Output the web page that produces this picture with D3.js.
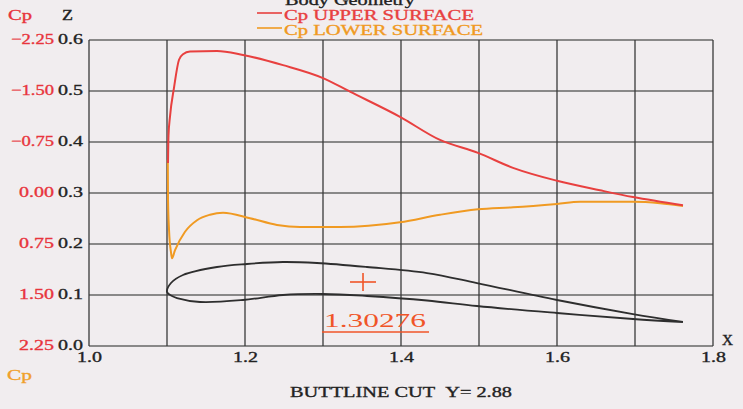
<!DOCTYPE html>
<html>
<head>
<meta charset="utf-8">
<script src="https://cdn.jsdelivr.net/npm/d3@7"></script>
<style>
  html, body { margin: 0; padding: 0; background: #f1edef; }
  svg { display: block; }
  text { font-family: "Liberation Serif", "Times New Roman", serif; }
</style>
</head>
<body>
<svg id="chart" width="743" height="409"></svg>
<script>
// Pressure distribution along a buttline cut: Cp on both surfaces plus section geometry.
const xTicks = [1.0, 1.1, 1.2, 1.3, 1.4, 1.5, 1.6, 1.7, 1.8];
const xTickLabels = ["1.0", "1.2", "1.4", "1.6", "1.8"];
const zTicks = [0.0, 0.1, 0.2, 0.3, 0.4, 0.5, 0.6];
const zTickLabels = ["0.0", "0.1", "0.2", "0.3", "0.4", "0.5", "0.6"];
const cpTicks = [2.25, 1.50, 0.75, 0.00, -0.75, -1.50, -2.25];
const cpTickLabels = ["2.25", "1.50", "0.75", "0.00", "\u22120.75", "\u22121.50", "\u22122.25"];

// Upper surface Cp (x, Cp)
const upperX  = [1.1013, 1.1019, 1.1038, 1.1090, 1.1154, 1.1205, 1.1295, 1.1641, 1.1974, 1.2487, 1.3000, 1.3346, 1.3987, 1.4500, 1.4987, 1.5436, 1.6000, 1.6551, 1.6974, 1.7615];
const upperCp = [-0.44, -0.84, -1.12, -1.55, -1.96, -2.04, -2.08, -2.09, -2.03, -1.88, -1.69, -1.49, -1.12, -0.78, -0.59, -0.37, -0.18, -0.04, 0.06, 0.18];

// Lower surface Cp (x, Cp)
const lowerX  = [1.1010, 1.1013, 1.1026, 1.1051, 1.1064, 1.1103, 1.1231, 1.1385, 1.1551, 1.1718, 1.2064, 1.2410, 1.2705, 1.3218, 1.3987, 1.4500, 1.4987, 1.5436, 1.6000, 1.6295, 1.6974, 1.7321, 1.7615];
const lowerCp = [-0.49, 0.10, 0.54, 0.87, 0.96, 0.84, 0.57, 0.40, 0.32, 0.29, 0.37, 0.47, 0.50, 0.50, 0.43, 0.32, 0.24, 0.21, 0.16, 0.13, 0.13, 0.15, 0.19];

// Section geometry (x, z)
const geomUpperX = [1.1000, 1.1051, 1.1205, 1.1641, 1.2026, 1.2487, 1.2923, 1.3564, 1.4333, 1.4974, 1.6000, 1.6974, 1.7615];
const geomUpperZ = [0.1059, 0.1235, 0.1392, 0.1549, 0.1608, 0.1647, 0.1627, 0.1549, 0.1431, 0.1235, 0.0902, 0.0627, 0.0471];
const geomLowerX = [1.1000, 1.1064, 1.1128, 1.1423, 1.1974, 1.2487, 1.3000, 1.3564, 1.4333, 1.4974, 1.6000, 1.6974, 1.7615];
const geomLowerZ = [0.1059, 0.0980, 0.0941, 0.0863, 0.0902, 0.1000, 0.1020, 0.0980, 0.0892, 0.0784, 0.0647, 0.0529, 0.0471];

// Cursor marker
const markerX = 1.3513;
const markerZ = 0.1255;
const markerLabel = "1.30276";

const svg = d3.select("#chart");
const plotLeft = 89, plotRight = 713, plotTop = 40, plotBottom = 346;

const x = d3.scaleLinear().domain([1.0, 1.8]).range([plotLeft, plotRight]);
const z = d3.scaleLinear().domain([0.0, 0.6]).range([plotBottom, plotTop]);
const cp = d3.scaleLinear().domain([2.25, -2.25]).range([plotBottom, plotTop]);

// Grid
const grid = svg.append("g");
grid.selectAll("line.h").data(zTicks).join("line")
  .attr("x1", plotLeft).attr("x2", plotRight)
  .attr("y1", d => z(d)).attr("y2", d => z(d))
  .attr("stroke", "#666").attr("stroke-width", 1.5);
grid.selectAll("line.v").data(xTicks).join("line")
  .attr("x1", d => x(d)).attr("x2", d => x(d))
  .attr("y1", plotTop).attr("y2", plotBottom)
  .attr("stroke", "#3a3a3a").attr("stroke-width", 1.3);

// Slightly heavier text, as on a plotter printout
function ink(sel, color) {
  sel.attr("stroke", color).attr("stroke-width", 0.35);
}

// Z axis labels
const zAxis = d3.axisLeft(z).tickValues(zTicks).tickSize(0)
  .tickFormat((d, i) => zTickLabels[i]);
const zg = svg.append("g").attr("transform", `translate(${plotLeft - 3},0)`).call(zAxis);
zg.select(".domain").remove();
zg.selectAll("text")
  .attr("font-family", "Liberation Serif").attr("font-size", 15)
  .attr("fill", "#222").attr("dy", "0.25em")
  .attr("textLength", 25).attr("lengthAdjust", "spacingAndGlyphs")
  .call(ink, "#222");

// Cp axis labels
const cpAxis = d3.axisLeft(cp).tickValues(cpTicks).tickSize(0)
  .tickFormat((d, i) => cpTickLabels[i]);
const cg = svg.append("g").attr("transform", `translate(54,0)`).call(cpAxis);
cg.select(".domain").remove();
cg.selectAll("text")
  .attr("font-family", "Liberation Serif").attr("font-size", 15)
  .attr("fill", "#e8343c").attr("dy", "0.25em").attr("x", 0)
  .attr("textLength", d => d < 0 ? 43 : 35).attr("lengthAdjust", "spacingAndGlyphs")
  .call(ink, "#e8343c");

// X axis labels
const xAxis = d3.axisBottom(x).tickValues(xTickLabels.map(Number)).tickSize(0)
  .tickFormat((d, i) => xTickLabels[i]);
const xg = svg.append("g").attr("transform", `translate(0,${plotBottom})`).call(xAxis);
xg.select(".domain").remove();
xg.selectAll("text")
  .attr("font-family", "Liberation Serif").attr("font-size", 15)
  .attr("fill", "#222").attr("y", 16).attr("dy", 0)
  .attr("textLength", 25).attr("lengthAdjust", "spacingAndGlyphs")
  .call(ink, "#222");

// Titles and axis names
function label(txt, px, py, opts) {
  const t = svg.append("text").attr("x", px).attr("y", py).text(txt)
    .attr("font-size", opts.size || 15).attr("fill", opts.fill || "#222")
    .attr("text-anchor", opts.anchor || "start");
  if (opts.len) t.attr("textLength", opts.len).attr("lengthAdjust", "spacingAndGlyphs");
  if (opts.family) t.attr("font-family", opts.family);
  if (opts.ink !== false) t.call(ink, opts.fill || "#222");
  return t;
}
label("Cp", 8, 20, { fill: "#e8343c", len: 24 });
label("Z", 62, 20, { fill: "#222", len: 11 });
label("X", 722, 345, { fill: "#222", len: 11 });
label("Cp", 7, 380, { fill: "#f0a02c", len: 25 });
label("BUTTLINE CUT\u00a0\u00a0Y= 2.88", 290, 397, { fill: "#222", len: 222, size: 15 });
label("Body Geometry", 350, 5, { fill: "#222", anchor: "middle", len: 130 });

// Legend
const legend = [
  { name: "Cp UPPER SURFACE", color: "#e8403f", y: 13, len: 190 },
  { name: "Cp LOWER SURFACE", color: "#f09a22", y: 28, len: 199 }
];
legend.forEach(l => {
  svg.append("line").attr("x1", 257).attr("x2", 282).attr("y1", l.y).attr("y2", l.y)
    .attr("stroke", l.color).attr("stroke-width", 1.6);
  label(l.name, 284, l.y + 6.5, { fill: l.color, len: l.len });
});

// Curves
const cpLine = d3.line().x(d => x(d[0])).y(d => cp(d[1])).curve(d3.curveMonotoneX);
const zLine = d3.line().x(d => x(d[0])).y(d => z(d[1])).curve(d3.curveCatmullRom.alpha(0.5));

const geomPts = geomUpperX.map((v, i) => [v, geomUpperZ[i]]).reverse()
  .concat(geomLowerX.map((v, i) => [v, geomLowerZ[i]]).slice(1));
svg.append("path").attr("d", zLine(geomPts))
  .attr("fill", "none").attr("stroke", "#2e2e2e").attr("stroke-width", 1.8);

svg.append("path").attr("d", cpLine(lowerX.map((v, i) => [v, lowerCp[i]])))
  .attr("fill", "none").attr("stroke", "#f09a22").attr("stroke-width", 2);
svg.append("path").attr("d", cpLine(upperX.map((v, i) => [v, upperCp[i]])))
  .attr("fill", "none").attr("stroke", "#e8403f").attr("stroke-width", 2);

// Cursor
const mx = x(markerX), my = z(markerZ);
svg.append("line").attr("x1", mx - 13).attr("x2", mx + 13).attr("y1", my).attr("y2", my)
  .attr("stroke", "#f05528").attr("stroke-width", 1.6);
svg.append("line").attr("x1", mx).attr("x2", mx).attr("y1", my - 9).attr("y2", my + 9)
  .attr("stroke", "#f05528").attr("stroke-width", 1.6);
label(markerLabel, 324, 327, { fill: "#f05528", len: 102, size: 18, family: "DejaVu Sans Mono", ink: false });
svg.append("line").attr("x1", 322).attr("x2", 429).attr("y1", 332).attr("y2", 332)
  .attr("stroke", "#f05528").attr("stroke-width", 1.6);
</script>
</body>
</html>
